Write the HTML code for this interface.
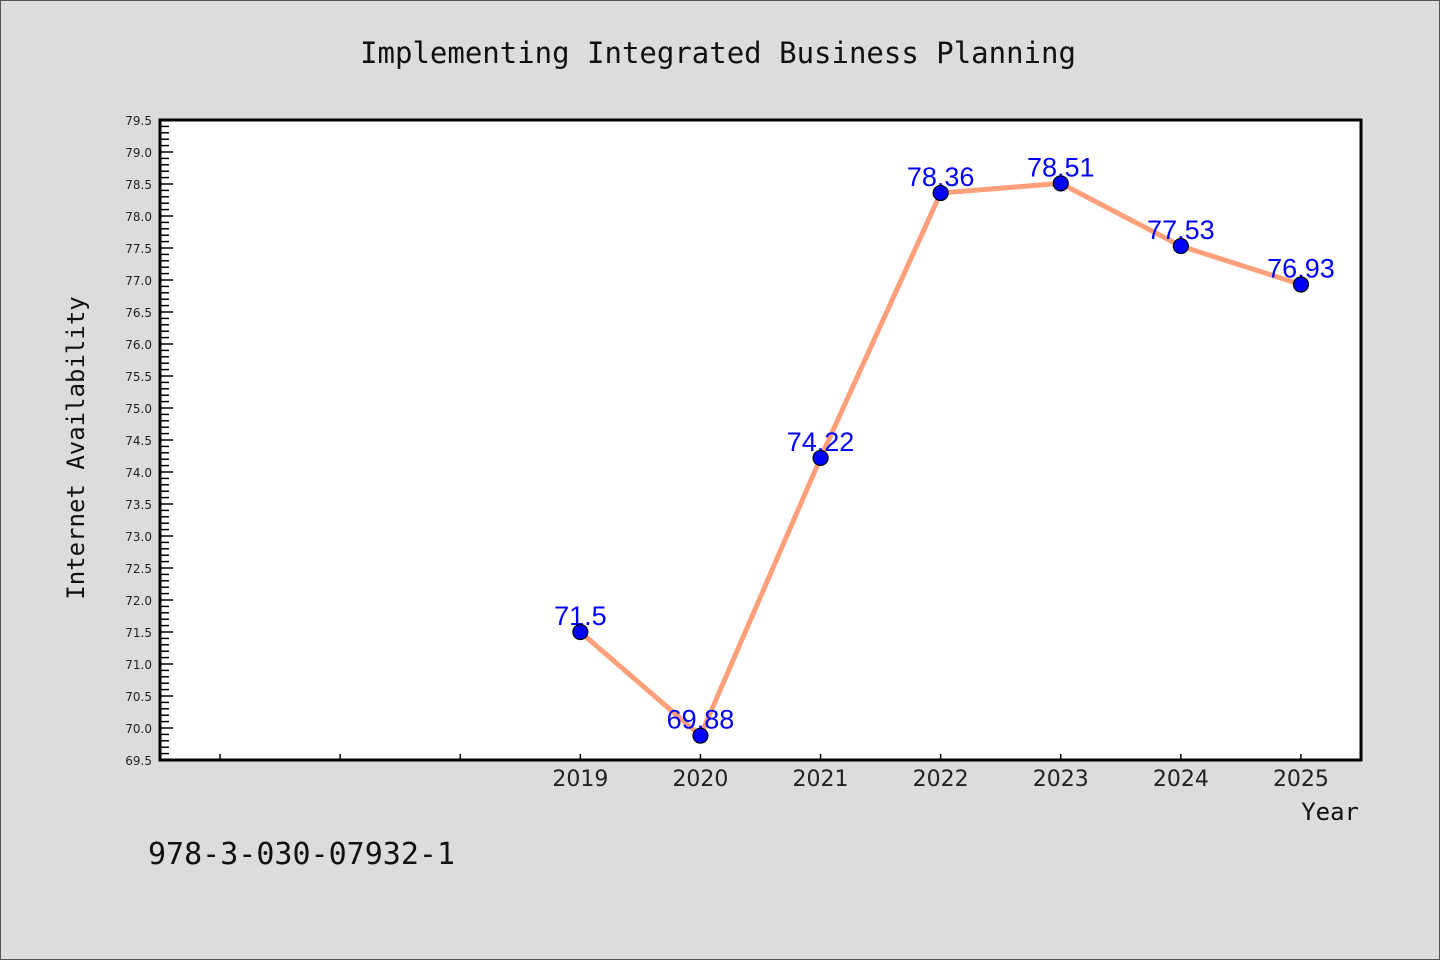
<!DOCTYPE html>
<html><head><meta charset="utf-8"><style>
body{margin:0;background:#dcdcdc;}
svg{display:block;}
</style></head><body>
<svg id="chart" width="1440" height="960" xmlns="http://www.w3.org/2000/svg">
<rect x="0.5" y="0.5" width="1439" height="959" fill="#dcdcdc" stroke="#555" stroke-width="1"/>
<text x="718" y="63" text-anchor="middle" font-family="DejaVu Sans Mono, Liberation Mono, monospace" font-size="29" fill="#111">Implementing Integrated Business Planning</text>
<rect x="160" y="120" width="1201" height="640" fill="#fff"/>
<g id="yticks"></g>
<g id="xticks"></g>
<g id="series"></g>
<rect x="160" y="120" width="1201" height="640" fill="none" stroke="#000" stroke-width="3"/>
<text transform="translate(84,448) rotate(-90)" text-anchor="middle" font-family="DejaVu Sans Mono, Liberation Mono, monospace" font-size="24" fill="#111">Internet Availability</text>
<text x="1359" y="820" text-anchor="end" font-family="DejaVu Sans Mono, Liberation Mono, monospace" font-size="24" fill="#111">Year</text>
<text x="148" y="864" font-family="DejaVu Sans Mono, Liberation Mono, monospace" font-size="30" fill="#111">978-3-030-07932-1</text>
</svg>
<script>
const categories = ["", "", "", "2019", "2020", "2021", "2022", "2023", "2024", "2025"];
const values = [null, null, null, 71.5, 69.88, 74.22, 78.36, 78.51, 77.53, 76.93];
const valueLabels = ["", "", "", "71.5", "69.88", "74.22", "78.36", "78.51", "77.53", "76.93"];
const yMin = 69.5, yMax = 79.5;
const ns = "http://www.w3.org/2000/svg";
const L = 160, R = 1361, T = 120, B = 760;
const step = (R - L) / categories.length;
function xPos(i){ return L + step * (i + 0.5); }
function yPos(v){ return B - (v - yMin) / (yMax - yMin) * (B - T); }
function mk(tag, attrs, parent){ const e = document.createElementNS(ns, tag); for (const k in attrs) e.setAttribute(k, attrs[k]); parent.appendChild(e); return e; }
const yg = document.getElementById('yticks');
for (let k = 0; k <= Math.round((yMax - yMin) * 10); k++) {
  const v = yMin + k / 10, y = yPos(v), major = k % 5 === 0;
  const t = mk('line', {x1: L, x2: L + (major ? 13 : 9), y1: y, y2: y, stroke: '#000', 'stroke-width': 1.5}, yg);
  
  
  if (major) {
    const tx = mk('text', {x: 152, y: y + 5, 'text-anchor': 'end', 'font-family': 'DejaVu Sans, Liberation Sans, sans-serif', 'font-size': 12, fill: '#222'}, yg);
    tx.textContent = v.toFixed(1);
    
    
  }
}
const xg = document.getElementById('xticks');
categories.forEach((c, i) => {
  const x = xPos(i);
  const t = mk('line', {x1: x, x2: x, y1: B, y2: B - 6, stroke: '#000', 'stroke-width': 1.5}, xg);
  
  
  const tx = mk('text', {x: x, y: B + 26, 'text-anchor': 'middle', 'font-family': 'DejaVu Sans, Liberation Sans, sans-serif', 'font-size': 22, fill: '#222'}, xg);
  tx.textContent = c;
  
  
});
const sg = document.getElementById('series');
const pts = [];
values.forEach((v, i) => { if (v !== null) pts.push([xPos(i), yPos(v), i]); });
const line = mk('polyline', {points: pts.map(p => p[0] + ',' + p[1]).join(' '), fill: 'none', stroke: '#ffa07a', 'stroke-width': 5, 'stroke-linejoin': 'round'}, sg);


pts.forEach(p => {
  const tx = mk('text', {x: p[0], y: p[1] - 7, 'text-anchor': 'middle', 'font-family': 'Liberation Sans, sans-serif', 'font-size': 27, fill: '#0000ff'}, sg);
  tx.textContent = valueLabels[p[2]];
  
  
});
pts.forEach(p => {
  const c = mk('circle', {cx: p[0], cy: p[1], r: 7.5, fill: '#0000ff', stroke: '#000', 'stroke-width': 1.2}, sg);
  
  
});
</script>
</body></html>
